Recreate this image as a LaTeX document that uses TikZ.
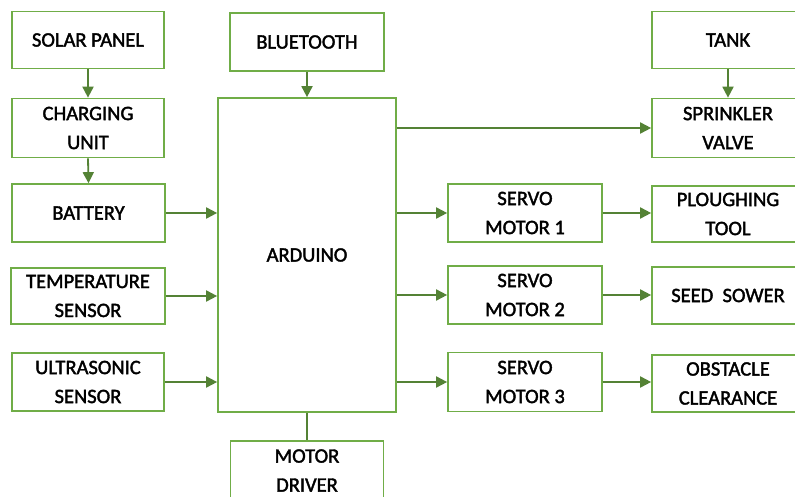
\documentclass[tikz,border=0pt]{standalone}
\usepackage{fontspec}
\setmainfont{Carlito}
\newfontfamily\lbl{Carlito}[FakeBold=1.8]
\usetikzlibrary{arrows.meta}
\definecolor{boxgreen}{HTML}{70AD47}
\definecolor{arrgreen}{HTML}{548235}
\begin{document}
\begin{tikzpicture}[x=1pt,y=-1pt,
  blk/.style={draw=boxgreen, line width=1.7pt, inner sep=0pt, align=center,
    font=\lbl\fontsize{20.5}{29}\selectfont},
  arr/.style={draw=arrgreen, line width=1.8pt, -{Triangle[length=11pt,width=11pt]}},
  plain/.style={draw=arrgreen, line width=1.8pt}]
\useasboundingbox (0,0) rectangle (795,497);
\clip (0,0) rectangle (795,497);
\fill[white] (0,0) rectangle (795,497);
\node[blk, minimum width=152pt, minimum height=57pt] (solar) at (88,40) {SOLAR PANEL};
\node[blk, minimum width=152pt, minimum height=59pt] (charge) at (88,128) {CHARGING\\UNIT};
\node[blk, minimum width=153pt, minimum height=58pt] (battery) at (88.5,213) {BATTERY};
\node[blk, minimum width=154pt, minimum height=56pt] (temp) at (88,296) {TEMPERATURE\\SENSOR};
\node[blk, minimum width=152pt, minimum height=58pt] (ultra) at (88,382) {ULTRASONIC\\SENSOR};
\node[blk, minimum width=154pt, minimum height=58pt] (bt) at (307,42) {BLUETOOTH};
\node[blk, minimum width=178pt, minimum height=314pt] (ard) at (307,255) {ARDUINO};
\node[blk, minimum width=153pt, minimum height=59pt] (md) at (307,470.5) {MOTOR\\DRIVER};
\node[blk, minimum width=154pt, minimum height=58pt] (s1) at (525,213) {SERVO\\MOTOR 1};
\node[blk, minimum width=154pt, minimum height=58pt] (s2) at (525,295) {SERVO\\MOTOR 2};
\node[blk, minimum width=154pt, minimum height=59pt] (s3) at (525,382) {SERVO\\MOTOR 3};
\node[blk, minimum width=152pt, minimum height=57pt] (tank) at (728,40) {TANK};
\node[blk, minimum width=152pt, minimum height=59pt] (spr) at (728,128) {SPRINKLER\\VALVE};
\node[blk, minimum width=152pt, minimum height=56pt] (plough) at (728,214) {PLOUGHING\\TOOL};
\node[blk, minimum width=152pt, minimum height=57pt] (seed) at (728,295.5) {SEED\ \ SOWER};
\node[blk, minimum width=152pt, minimum height=57pt] (obs) at (728,383.5) {OBSTACLE\\CLEARANCE};
% connectors
\draw[arr] (solar.south) -- (charge.north);
\draw[arr] (charge.south) -- (battery.north);
\draw[arr] (bt.south) -- (bt.south |- ard.north);
\draw[arr] (tank.south) -- (spr.north);
\draw[arr] (battery.east) -- (battery.east -| ard.west);
\draw[arr] (temp.east) -- (temp.east -| ard.west);
\draw[arr] (ultra.east) -- (ultra.east -| ard.west);
\draw[arr] (spr.west -| ard.east) -- (spr.west);
\draw[arr] (s1.west -| ard.east) -- (s1.west);
\draw[arr] (s2.west -| ard.east) -- (s2.west);
\draw[arr] (s3.west -| ard.east) -- (s3.west);
\draw[arr] (s1.east) -- (s1.east -| plough.west);
\draw[arr] (s2.east) -- (s2.east -| seed.west);
\draw[arr] (s3.east) -- (s3.east -| obs.west);
\draw[plain] (ard.south) -- (md.north);
\end{tikzpicture}
\end{document}
